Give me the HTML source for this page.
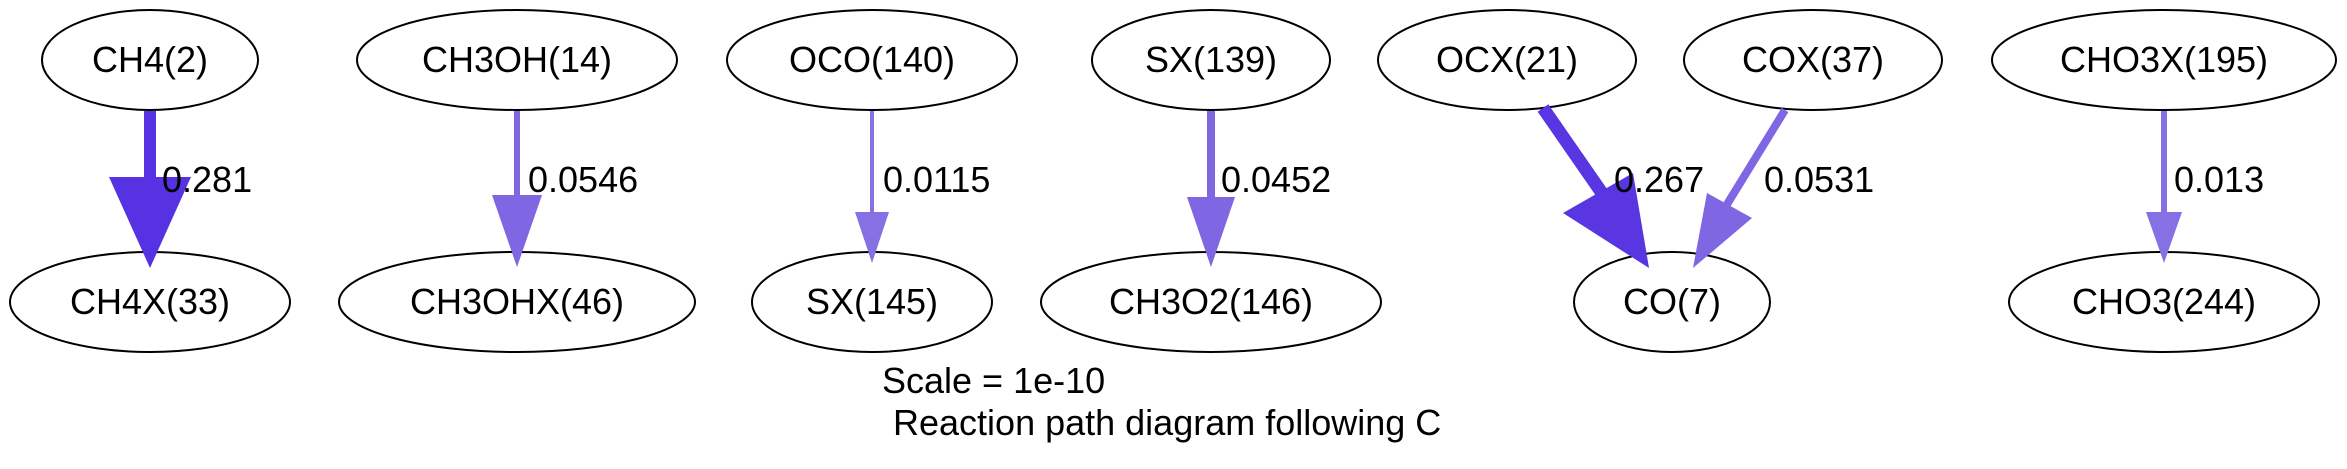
<!DOCTYPE html>
<html><head><meta charset="utf-8"><style>
html,body{margin:0;padding:0;background:#fff}
svg{display:block}
text{font-family:"Liberation Sans",Arial,sans-serif;font-size:36px;fill:#000}
</style></head><body>
<svg width="2347" height="469" viewBox="0 0 2347 469" xmlns="http://www.w3.org/2000/svg">
<rect width="2347" height="469" fill="#fff"/>
<g fill="none" stroke="#000" stroke-width="2">
<ellipse cx="150" cy="60" rx="108" ry="50"/>
<ellipse cx="150" cy="302" rx="140" ry="50"/>
<ellipse cx="517" cy="60" rx="160" ry="50"/>
<ellipse cx="517" cy="302" rx="178" ry="50"/>
<ellipse cx="872" cy="60" rx="145" ry="50"/>
<ellipse cx="872" cy="302" rx="120" ry="50"/>
<ellipse cx="1211" cy="60" rx="119" ry="50"/>
<ellipse cx="1211" cy="302" rx="170" ry="50"/>
<ellipse cx="1507" cy="60" rx="129" ry="50"/>
<ellipse cx="1813" cy="60" rx="129" ry="50"/>
<ellipse cx="1672" cy="302" rx="98" ry="50"/>
<ellipse cx="2164" cy="60" rx="172" ry="50"/>
<ellipse cx="2164" cy="302" rx="155" ry="50"/>
</g>
<line x1="150" y1="111" x2="150" y2="180" stroke="#5632e2" stroke-width="12"/>
<polygon points="109,177 191,177 150,268" fill="#5632e2"/>
<line x1="517" y1="111" x2="517" y2="198" stroke="#7f66e3" stroke-width="6"/>
<polygon points="492,195 542,195 517,267" fill="#7f66e3"/>
<line x1="872" y1="111" x2="872" y2="214" stroke="#8570e4" stroke-width="4"/>
<polygon points="855,212 889,212 872,263" fill="#8570e4"/>
<line x1="1211" y1="111" x2="1211" y2="199" stroke="#7f66e3" stroke-width="8"/>
<polygon points="1187,197 1235,197 1211,267" fill="#7f66e3"/>
<line x1="2164" y1="111" x2="2164" y2="214" stroke="#8570e4" stroke-width="6"/>
<polygon points="2146,212 2182,212 2164,263" fill="#8570e4"/>
<line x1="1543" y1="108" x2="1604" y2="196" stroke="#5a35e2" stroke-width="13"/>
<polygon points="1563,213 1633,173 1649,268" fill="#5a35e2"/>
<line x1="1785" y1="110" x2="1726" y2="206" stroke="#7f66e3" stroke-width="8"/>
<polygon points="1707,193 1752,218 1693,268" fill="#7f66e3"/>
<g text-anchor="middle">
<text x="150" y="72">CH4(2)</text>
<text x="150" y="314">CH4X(33)</text>
<text x="517" y="72">CH3OH(14)</text>
<text x="517" y="314">CH3OHX(46)</text>
<text x="872" y="72">OCO(140)</text>
<text x="872" y="314">SX(145)</text>
<text x="1211" y="72">SX(139)</text>
<text x="1211" y="314">CH3O2(146)</text>
<text x="1507" y="72">OCX(21)</text>
<text x="1813" y="72">COX(37)</text>
<text x="1672" y="314">CO(7)</text>
<text x="2164" y="72">CHO3X(195)</text>
<text x="2164" y="314">CHO3(244)</text>
</g>
<text x="162" y="192">0.281</text>
<text x="528" y="192">0.0546</text>
<text x="883" y="192">0.0115</text>
<text x="1221" y="192">0.0452</text>
<text x="1614" y="192">0.267</text>
<text x="1764" y="192">0.0531</text>
<text x="2174" y="192">0.013</text>
<text x="882" y="393">Scale = 1e-10</text>
<text x="893" y="435">Reaction path diagram following C</text>
</svg>
</body></html>
